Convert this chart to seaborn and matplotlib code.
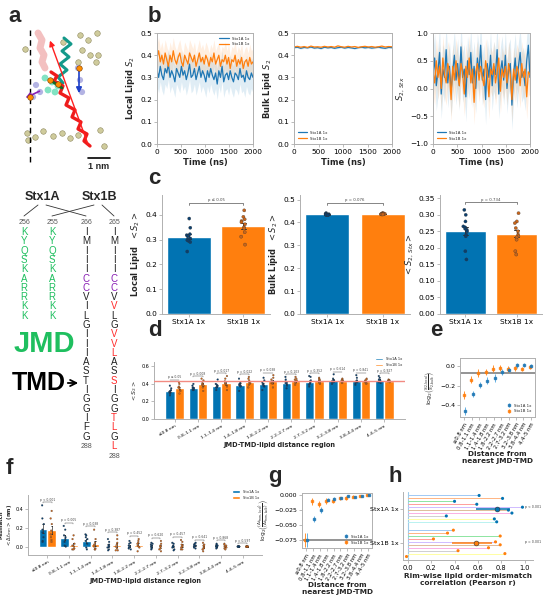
import numpy as np
import pandas as pd
import matplotlib
matplotlib.use("Agg")
import matplotlib.pyplot as plt
import seaborn as sns

# ---------------- dados ----------------
grupos = ["Stx1A 1x", "Stx1B 1x"]
azul = "#0173b2"
laranja = "#ff7f0e"
azul_esc = "#0b3f6e"
laranja_esc = "#c8641a"
verde = "#1fbf5f"
roxo = "#8a1fb5"
vermelho = "#ff2a2a"

# b: series temporais (valores lidos grosseiramente do grafico)
local_a = [0.33, 0.30, 0.35, 0.31, 0.29, 0.34, 0.32, 0.36, 0.30, 0.33, 0.31, 0.28, 0.34, 0.32, 0.30,
           0.35, 0.31, 0.33, 0.29, 0.32, 0.36, 0.30, 0.31, 0.34, 0.29, 0.32, 0.35, 0.30, 0.33, 0.31,
           0.28, 0.33, 0.30, 0.34, 0.31, 0.29, 0.32, 0.27, 0.33, 0.30, 0.35, 0.28, 0.31, 0.32, 0.29,
           0.33, 0.30, 0.28, 0.32, 0.31, 0.29, 0.34, 0.30, 0.31, 0.28, 0.33, 0.30, 0.29, 0.32, 0.30]
local_b = [0.39, 0.42, 0.37, 0.40, 0.36, 0.41, 0.38, 0.35, 0.40, 0.37, 0.42, 0.38, 0.36, 0.39, 0.41,
           0.37, 0.35, 0.40, 0.38, 0.36, 0.41, 0.39, 0.37, 0.40, 0.35, 0.38, 0.41, 0.37, 0.39, 0.36,
           0.40, 0.38, 0.35, 0.39, 0.37, 0.41, 0.36, 0.38, 0.40, 0.35, 0.38, 0.37, 0.40, 0.36, 0.39,
           0.34, 0.38, 0.37, 0.40, 0.35, 0.38, 0.36, 0.39, 0.34, 0.37, 0.38, 0.35, 0.39, 0.36, 0.37]
bulk_a = [0.434, 0.436, 0.431, 0.435, 0.433, 0.437, 0.432, 0.434, 0.430, 0.436, 0.433, 0.435, 0.431,
          0.434, 0.436, 0.432, 0.435, 0.433, 0.430, 0.434, 0.436, 0.433, 0.435, 0.432, 0.434, 0.436,
          0.433, 0.431, 0.435, 0.434]
bulk_b = [0.437, 0.440, 0.436, 0.439, 0.435, 0.441, 0.437, 0.438, 0.436, 0.440, 0.437, 0.439, 0.436,
          0.442, 0.438, 0.436, 0.440, 0.437, 0.439, 0.435, 0.438, 0.440, 0.437, 0.439, 0.436, 0.438,
          0.441, 0.437, 0.439, 0.438]
stx_a = [0.25, 0.55, 0.05, 0.30, 0.65, -0.10, 0.35, 0.20, 0.70, 0.10, 0.40, -0.05, 0.30, 0.60, 0.15,
         0.45, 0.05, 0.75, 0.20, 0.35, -0.15, 0.50, 0.25, 0.65, 0.10, 0.40, 0.00, 0.55, 0.30, 0.78,
         0.15, 0.35, -0.20, 0.45, 0.20, 0.60, 0.05, 0.40, 0.25, 0.70, -0.10, 0.30, 0.50, 0.15, 0.60,
         0.00, 0.35, 0.45, -0.30, 0.25, 0.55, 0.10, 0.40, 0.65, 0.20, 0.30, 0.05, 0.50, 0.78, 0.20]
stx_b = [0.30, 0.10, 0.50, 0.20, 0.40, 0.00, 0.55, 0.25, 0.10, 0.45, 0.30, -0.20, 0.40, 0.15, 0.50,
         0.25, 0.05, 0.45, 0.30, -0.10, 0.40, 0.20, 0.55, 0.10, 0.35, -0.25, 0.30, 0.45, 0.15, 0.40,
         0.20, 0.05, 0.50, 0.30, -0.15, 0.35, 0.25, 0.45, 0.10, 0.30, 0.55, -0.05, 0.35, 0.20, 0.40,
         0.10, 0.45, 0.25, -0.20, 0.35, 0.15, 0.40, 0.30, 0.05, 0.45, 0.20, 0.35, -0.15, 0.30, 0.25]
local_sd = [0.07, 0.06]
bulk_sd = [0.004, 0.004]
stx_sd = [0.45, 0.4]

# c: medias por replica
c_local_a = [0.385, 0.348, 0.322, 0.318, 0.313, 0.305, 0.30, 0.298, 0.295, 0.29, 0.252]
c_local_b = [0.418, 0.392, 0.382, 0.375, 0.37, 0.362, 0.35, 0.345, 0.33, 0.312, 0.28]
c_bulk_a = [0.441, 0.437, 0.436, 0.435, 0.435, 0.434, 0.434, 0.433, 0.433, 0.432]
c_bulk_b = [0.441, 0.440, 0.439, 0.438, 0.438, 0.437, 0.437, 0.436, 0.436, 0.435, 0.435]
c_stx_a = [0.315, 0.30, 0.28, 0.265, 0.262, 0.258, 0.255, 0.25, 0.24, 0.235, 0.19, 0.165]
c_stx_b = [0.305, 0.28, 0.275, 0.26, 0.25, 0.24, 0.235, 0.232, 0.225, 0.19, 0.18]
c_p = ["p ≤ 0.05", "p = 0.076", "p = 0.734"]

# d / e / f / g: regioes de distancia
regioes = ["≤0.8 nm", "0.8–1.1 nm", "1.1–1.4 nm", "1.4–1.8 nm", "1.8–2.2 nm",
           "2.2–2.7 nm", "2.7–3.2 nm", "3.2–3.8 nm", "3.8–4.4 nm", "4.4–5 nm"]
d_a = [[0.38, 0.35, 0.33, 0.32, 0.31, 0.30, 0.29, 0.27],
       [0.40, 0.38, 0.36, 0.355, 0.35, 0.34, 0.33, 0.33],
       [0.45, 0.40, 0.39, 0.38, 0.37, 0.36, 0.36, 0.33],
       [0.46, 0.42, 0.40, 0.39, 0.385, 0.38, 0.37, 0.32],
       [0.47, 0.44, 0.42, 0.40, 0.39, 0.38, 0.37, 0.33],
       [0.48, 0.45, 0.43, 0.42, 0.41, 0.40, 0.38, 0.35],
       [0.49, 0.48, 0.44, 0.42, 0.41, 0.40, 0.39, 0.37],
       [0.51, 0.46, 0.44, 0.435, 0.43, 0.42, 0.42, 0.40],
       [0.50, 0.47, 0.44, 0.43, 0.43, 0.42, 0.41, 0.39],
       [0.49, 0.47, 0.45, 0.44, 0.43, 0.43, 0.42, 0.41]]
d_b = [[0.42, 0.40, 0.37, 0.36, 0.35, 0.33, 0.32, 0.29],
       [0.46, 0.44, 0.41, 0.40, 0.39, 0.38, 0.36, 0.32],
       [0.49, 0.46, 0.43, 0.41, 0.40, 0.39, 0.37, 0.33],
       [0.48, 0.46, 0.44, 0.42, 0.41, 0.40, 0.39, 0.36],
       [0.50, 0.47, 0.45, 0.43, 0.42, 0.41, 0.40, 0.36],
       [0.48, 0.46, 0.45, 0.44, 0.43, 0.42, 0.41, 0.39],
       [0.47, 0.46, 0.45, 0.44, 0.43, 0.42, 0.41, 0.40],
       [0.46, 0.45, 0.44, 0.44, 0.43, 0.43, 0.42, 0.41],
       [0.46, 0.45, 0.44, 0.43, 0.43, 0.42, 0.41, 0.40],
       [0.45, 0.445, 0.44, 0.435, 0.435, 0.43, 0.43, 0.42]]
d_p = ["p ≤ 0.05", "p = 0.008", "p = 0.017", "p = 0.022", "p = 0.038",
       "p = 0.103", "p = 0.352", "p = 0.614", "p = 0.841", "p = 0.927"]
bulk_ref = 0.435

e_a = [-0.46, -0.285, -0.19, -0.15, -0.125, -0.065, -0.04, 0.005, 0.01, 0.0]
e_a_err = [0.04, 0.03, 0.03, 0.035, 0.04, 0.03, 0.025, 0.025, 0.02, 0.02]
e_b = [-0.295, -0.14, -0.07, -0.06, -0.03, -0.025, -0.03, -0.025, -0.03, -0.015]
e_b_err = [0.04, 0.035, 0.04, 0.03, 0.035, 0.03, 0.03, 0.025, 0.02, 0.02]
e_ref = -0.075

f_a = [[0.44, 0.30, 0.24, 0.18, 0.15, 0.10, 0.06, 0.05],
       [0.22, 0.18, 0.12, 0.10, 0.08, 0.05, 0.01, 0.0],
       [0.13, 0.12, 0.10, 0.08, 0.06, 0.03, -0.01, -0.03],
       [0.08, 0.05, 0.02, 0.01, 0.0, -0.01, -0.03, -0.04],
       [0.06, 0.04, 0.03, 0.01, 0.0, -0.01, -0.02, -0.03],
       [0.04, 0.03, 0.02, 0.01, 0.0, -0.01, -0.02, -0.03],
       [0.04, 0.03, 0.01, 0.0, 0.0, -0.01, -0.03, -0.04],
       [0.04, 0.03, 0.02, 0.01, 0.01, 0.0, -0.01, -0.02],
       [0.03, 0.02, 0.01, 0.01, 0.0, 0.0, -0.01, -0.02],
       [0.002, 0.001, 0.0, 0.0, 0.0, 0.0, -0.001, -0.002]]
f_b = [[0.38, 0.30, 0.24, 0.17, 0.13, 0.10, 0.07, 0.05],
       [0.12, 0.08, 0.03, 0.01, 0.0, -0.02, -0.03, -0.03],
       [0.18, 0.08, 0.04, 0.02, 0.0, -0.02, -0.03, -0.03],
       [0.12, 0.08, 0.04, 0.02, 0.0, -0.02, -0.04, -0.04],
       [0.08, 0.06, 0.04, 0.03, 0.01, 0.0, -0.01, -0.05],
       [0.06, 0.03, 0.01, 0.0, 0.0, -0.02, -0.03, -0.05],
       [0.07, 0.05, 0.02, 0.01, 0.0, -0.01, -0.03, -0.03],
       [0.04, 0.02, 0.01, 0.0, -0.01, -0.02, -0.03, -0.05],
       [0.03, 0.02, 0.01, 0.0, 0.0, -0.01, -0.02, -0.03],
       [0.002, 0.001, 0.0, 0.0, 0.0, 0.0, -0.001, -0.002]]
f_p = ["p < 0.001", "p = 0.005", "p = 0.038", "p = 0.387", "p = 0.452",
       "p = 0.620", "p = 0.457", "p = 0.641", "p = 0.868", "p = 0.597"]

g_a = [-0.075, -0.039, -0.024, -0.007, -0.006, -0.004, -0.001, -0.003, -0.001, 0.0]
g_a_err = [0.012, 0.005, 0.005, 0.003, 0.003, 0.002, 0.002, 0.002, 0.001, 0.001]
g_b = [-0.075, -0.010, -0.014, -0.010, -0.009, -0.005, -0.004, -0.002, -0.001, 0.0]
g_b_err = [0.012, 0.006, 0.005, 0.005, 0.004, 0.003, 0.003, 0.002, 0.001, 0.001]
g_ref = -0.075

# h: correlacao por replica
h_a = [0.61, 0.81, 0.40, 0.59, 0.98, 0.86, 0.89, 0.33, 0.74, 0.76]
h_b = [0.39, 0.34, 0.79, 0.22, 0.75, 0.79, 0.69, 0.43, 0.83, -0.01]
h_media = [0.76, 0.58]
h_lo = [0.58, 0.38]
h_hi = [0.87, 0.72]
h_p = ["p < 0.001", "p = 0.001"]

# a: sequencias
seq_num = ["256", "255", "266", "265"]
seq1 = "KYQSKARRKK"
seq2 = "KYQSKARRKK"
seq3 = "IMIIICCVILGIIIASTIGGIFG"
seq4 = "IMIIICCVVLGVVLASSIGGTLGL"
seq4_vermelho = [8, 11, 12, 13, 16, 20, 21, 23]

# a: ilustracao molecular (coordenadas em pixels da figura)
esfera_x = [25, 63, 80, 88, 97, 82, 90, 98, 78, 27, 35, 43, 53, 62, 70, 78, 100, 104, 96, 28]
esfera_y = [49, 42, 35, 40, 33, 50, 55, 55, 62, 133, 137, 131, 136, 133, 138, 135, 130, 146, 62, 140]
helice_x = [90, 84, 87, 78, 81, 72, 75, 66, 69, 60, 63, 54, 57, 51]
helice_y = [146, 141, 134, 129, 122, 117, 110, 105, 98, 93, 86, 81, 76, 72]
teal_x = [64, 71, 62, 69, 60, 67, 58, 63]
teal_y = [38, 44, 51, 57, 64, 70, 77, 83]
rosa_x = [38, 42, 40, 44, 42, 45]
rosa_y = [33, 40, 48, 55, 62, 68]
menta_x = [45, 52, 58, 48, 55]
menta_y = [78, 82, 86, 90, 92]
lavanda_x = [36, 40, 33, 78, 80, 82]
lavanda_y = [85, 92, 97, 68, 80, 92]
bola_x = [30, 50, 58, 79]
bola_y = [97, 80, 84, 68]

# ---------------- figura ----------------
sns.set_style("ticks")
plt.rcParams['font.family'] = ['DejaVu Sans']
plt.rcParams['axes.edgecolor'] = '#b0b0b0'
plt.rcParams['axes.linewidth'] = 0.7
plt.rcParams['xtick.color'] = '#b0b0b0'
plt.rcParams['ytick.color'] = '#b0b0b0'
plt.rcParams['xtick.labelcolor'] = 'black'
plt.rcParams['ytick.labelcolor'] = 'black'
plt.rcParams['xtick.major.size'] = 2
plt.rcParams['ytick.major.size'] = 2
plt.rcParams['xtick.major.width'] = 0.6
plt.rcParams['ytick.major.width'] = 0.6
plt.rcParams['xtick.major.pad'] = 1.5
plt.rcParams['ytick.major.pad'] = 1.5
plt.rcParams['axes.labelpad'] = 2

fig = plt.figure(figsize=(5.5, 5.98), dpi=100)
W, H = 550.0, 598.0


def caixa(x1, y1, x2, y2):
    return [x1 / W, 1 - y2 / H, (x2 - x1) / W, (y2 - y1) / H]


# camada de fundo em pixels para o painel a e as letras
fundo = fig.add_axes([0, 0, 1, 1])
fundo.set_xlim(0, W)
fundo.set_ylim(H, 0)
fundo.axis('off')
fundo.patch.set_alpha(0)

letra = dict(fontsize=16, fontweight='bold', family=['Liberation Sans'], va='top', ha='left')
for txt, x, y in [("a", 8, 6), ("b", 148, 6), ("c", 148, 168), ("d", 148, 320),
                  ("e", 430, 320), ("f", 6, 458), ("g", 268, 466), ("h", 388, 466)]:
    fundo.text(x, y, txt, **letra)

# ilustracao
fundo.plot([30, 30], [30, 165], ls=(0, (4, 3)), color='k', lw=1)
fundo.scatter(esfera_x, esfera_y, s=16, color='#cfcb9c', edgecolor='#8f8a60', lw=0.4)
fundo.plot(rosa_x, rosa_y, color='#f2baba', lw=5, solid_capstyle='round', alpha=0.9)
fundo.scatter(menta_x, menta_y, s=24, color='#82e3c3', edgecolor='none')
fundo.scatter(lavanda_x, lavanda_y, s=20, color='#b3b3e3', edgecolor='none')
fundo.plot(teal_x, teal_y, color='#13998a', lw=2.2)
fundo.plot(helice_x, helice_y, color='#ee1c1c', lw=2.4)
fundo.plot([50, 62], [80, 88], color='#0d6b2a', lw=2)
fundo.scatter(bola_x, bola_y, s=16, color='#ff8c00', edgecolor='#7a3b00', lw=0.4, zorder=5)
fundo.annotate("", xy=(49, 38), xytext=(89, 147),
               arrowprops=dict(arrowstyle='-|>', color='#ff2020', lw=1, mutation_scale=8))
fundo.annotate("", xy=(23, 99), xytext=(42, 90),
               arrowprops=dict(arrowstyle='-|>', color=roxo, lw=1.2, mutation_scale=8))
fundo.annotate("", xy=(79, 96), xytext=(79, 68),
               arrowprops=dict(arrowstyle='-|>', color='#1e40c8', lw=1.2, mutation_scale=8))
fundo.plot([88, 110], [158, 158], color='k', lw=1.2)
fundo.text(99, 162, "1 nm", fontsize=6.5, fontweight='bold', family=['Liberation Sans'],
           ha='center', va='top')

# sequencias
fam = ['Liberation Sans']
col_x = [24, 52, 86, 114]
y0, dy = 232, 9.3
fundo.text(42, 197, "Stx1A", fontsize=9, fontweight='bold', family=fam, ha='center', va='center')
fundo.text(99, 197, "Stx1B", fontsize=9, fontweight='bold', family=fam, ha='center', va='center')
for xa, xb in [(38, col_x[0]), (46, col_x[2]), (94, col_x[1]), (102, col_x[3])]:
    fundo.plot([xa, xb], [205, 216], color='#333', lw=0.6)
for x, n in zip(col_x, seq_num):
    fundo.text(x, 222, n, fontsize=5, color='#555', family=fam, ha='center', va='center')
for k, (x, s) in enumerate(zip(col_x, [seq1, seq2, seq3, seq4])):
    for i, ch in enumerate(s):
        if k < 2:
            cor = verde
        elif ch == 'C':
            cor = roxo
        elif k == 3 and i in seq4_vermelho:
            cor = vermelho
        else:
            cor = '#222'
        fundo.text(x, y0 + i * dy, ch, fontsize=7, color=cor, family=fam, ha='center', va='center')
fundo.text(col_x[2], y0 + 23 * dy + 1, "288", fontsize=5, color='#555', family=fam, ha='center', va='center')
fundo.text(col_x[3], y0 + 24 * dy + 1, "288", fontsize=5, color='#555', family=fam, ha='center', va='center')
fundo.text(14, 344, "JMD", fontsize=21, fontweight='bold', color=verde, family=fam, va='center')
fundo.text(12, 383, "TMD", fontsize=18, fontweight='bold', color='k', family=fam, va='center')
fundo.annotate("", xy=(col_x[2] - 5, 383), xytext=(65, 383),
               arrowprops=dict(arrowstyle='->', color='k', lw=1.3, mutation_scale=11))

# ---------------- b ----------------
tempo60 = np.linspace(0, 2000, len(local_a))
tempo30 = np.linspace(0, 2000, len(bulk_a))
series_b = [
    (caixa(157, 33, 253, 144), tempo60, local_a, local_b, local_sd, (0, 0.5),
     np.arange(0, 0.51, 0.1), "Local Lipid $S_2$", 'upper right'),
    (caixa(294, 33, 392, 144), tempo30, bulk_a, bulk_b, bulk_sd, (0, 0.5),
     np.arange(0, 0.51, 0.1), "Bulk Lipid $S_2$", 'lower left'),
    (caixa(433, 33, 530, 144), tempo60, stx_a, stx_b, stx_sd, (-1, 1),
     [-1, -0.5, 0, 0.5, 1], "$S_{2,\\,Stx}$", 'lower left'),
]
for pos, t, va, vb, sd, lim, ticks, rot, loc in series_b:
    ax = fig.add_axes(pos)
    df = pd.DataFrame({'Tempo': np.concatenate([t, t]), 'S2': va + vb,
                       'grupo': [grupos[0]] * len(t) + [grupos[1]] * len(t)})
    ax.fill_between(t, np.array(va) - sd[0], np.array(va) + sd[0], color=azul, alpha=0.12, lw=0)
    ax.fill_between(t, np.array(vb) - sd[1], np.array(vb) + sd[1], color=laranja, alpha=0.12, lw=0)
    sns.lineplot(data=df, x='Tempo', y='S2', hue='grupo', palette=["#1f77b4", laranja],
                 lw=0.9, ax=ax, estimator=None)
    ax.set_xlim(0, 2000)
    ax.set_ylim(*lim)
    ax.set_yticks(ticks)
    ax.set_xticks([0, 500, 1000, 1500, 2000])
    ax.tick_params(labelsize=5.3)
    ax.set_xlabel("Time (ns)", fontsize=6, fontweight='bold')
    ax.set_ylabel(rot, fontsize=6, fontweight='bold' if 'Lipid' in rot else 'normal')
    ax.legend(loc=loc, fontsize=2.8, frameon=False, handlelength=2.5)

# ---------------- c ----------------
dados_c = [
    (caixa(162, 195, 270, 314), c_local_a, c_local_b, (0, 0.48), np.arange(0, 0.41, 0.1),
     "Local Lipid  $< S_2 >$", 0.447, c_p[0], "%.1f"),
    (caixa(300, 195, 410, 314), c_bulk_a, c_bulk_b, (0, 0.52), np.arange(0, 0.51, 0.1),
     "Bulk Lipid  $< S_2 >$", 0.485, c_p[1], "%.1f"),
    (caixa(440, 195, 542, 314), c_stx_a, c_stx_b, (0, 0.36), np.arange(0, 0.351, 0.05),
     "$< S_{2,\\,Stx} >$", 0.338, c_p[2], "%.2f"),
]
for pos, va, vb, lim, ticks, rot, yb, ptxt, fmt in dados_c:
    ax = fig.add_axes(pos)
    df = pd.DataFrame({'grupo': [grupos[0]] * len(va) + [grupos[1]] * len(vb), 'valor': va + vb})
    sns.barplot(data=df, x='grupo', y='valor', hue='grupo', palette=[azul, laranja],
                errorbar='se', capsize=0.1, err_kws={'linewidth': 0.7, 'color': '#333'},
                width=0.8, saturation=1, legend=False, ax=ax)
    sns.stripplot(data=df, x='grupo', y='valor', hue='grupo', palette=[azul_esc, laranja_esc],
                  size=2.3, jitter=0.04, edgecolor='#333', linewidth=0.2, legend=False, ax=ax)
    sns.despine(ax=ax)
    ax.set_ylim(*lim)
    ax.set_yticks(ticks)
    ax.yaxis.set_major_formatter(matplotlib.ticker.FormatStrFormatter(fmt))
    ax.tick_params(labelsize=5.3)
    ax.set_xlabel("")
    ax.set_ylabel(rot, fontsize=6, fontweight='bold' if 'Lipid' in rot else 'normal')
    h = (lim[1]) * 0.015
    ax.plot([0, 0, 1, 1], [yb - h, yb, yb, yb - h], color='#555', lw=0.5)
    ax.text(0.5, yb + h * 0.4, ptxt, fontsize=2.8, ha='center', va='bottom', color='#444')


# ---------------- d e f ----------------
def barras_regiao(ax, pa, pb, pvals, fs_tick, alt):
    linhas = []
    for i, reg in enumerate(regioes):
        for v in pa[i]:
            linhas.append((reg, grupos[0], v))
        for v in pb[i]:
            linhas.append((reg, grupos[1], v))
    df = pd.DataFrame(linhas, columns=['regiao', 'grupo', 'valor'])
    sns.barplot(data=df, x='regiao', y='valor', hue='grupo', order=regioes, hue_order=grupos,
                palette=[azul, laranja], errorbar='se', capsize=0.12, saturation=1,
                err_kws={'linewidth': 0.5, 'color': '#333'}, width=0.8, ax=ax)
    sns.stripplot(data=df, x='regiao', y='valor', hue='grupo', order=regioes, hue_order=grupos,
                  palette=[azul_esc, laranja_esc], dodge=True, size=1.3, jitter=0.1,
                  edgecolor='#333', linewidth=0.15, legend=False, ax=ax)
    for i in range(len(regioes)):
        topo = max(max(pa[i]), max(pb[i])) + alt
        ax.plot([i - 0.2, i - 0.2, i + 0.2, i + 0.2], [topo - alt * 0.3, topo, topo, topo - alt * 0.3],
                color='#555', lw=0.35)
        ax.text(i, topo + alt * 0.15, pvals[i], fontsize=2.2, ha='center', va='bottom', color='#444')
    sns.despine(ax=ax)
    ax.set_xticks(range(len(regioes)))
    ax.set_xticklabels(regioes, rotation=30, ha='right', rotation_mode='anchor', fontsize=fs_tick)
    ax.tick_params(axis='y', labelsize=fs_tick + 0.3)
    ax.set_xlabel("JMD-TMD-lipid distance region", fontsize=4.8, fontweight='bold')
    ax.legend(loc='upper right', bbox_to_anchor=(1.0, 1.14), fontsize=2.6, frameon=False,
              handlelength=2.2)


ax_d = fig.add_axes(caixa(154, 362, 405, 419))
barras_regiao(ax_d, d_a, d_b, d_p, 3.2, 0.03)
ax_d.axhline(bulk_ref, color='#f28b82', lw=1, zorder=5)
ax_d.set_ylim(0, 0.65)
ax_d.set_yticks([0, 0.2, 0.4, 0.6])
ax_d.set_ylabel("$< S_2 >$", fontsize=4.5)

ax_f = fig.add_axes(caixa(28, 495, 262, 555))
barras_regiao(ax_f, f_a, f_b, f_p, 3.2, 0.035)
ax_f.set_ylim(-0.09, 0.55)
ax_f.set_yticks([0, 0.2, 0.4])
ax_f.set_ylabel("Mismatch\n$< \\Delta t_{mm} >$ (nm)", fontsize=3.8, fontweight='bold', labelpad=1)


def pontos_regiao(ax, va, ea, vb, eb, ref):
    xs = np.arange(len(regioes))
    ax.errorbar(xs - 0.12, vb, yerr=eb, fmt='s', ms=1.8, color=laranja, ecolor=laranja,
                elinewidth=0.7, alpha=0.85, capsize=0, label=grupos[1])
    ax.errorbar(xs + 0.12, va, yerr=ea, fmt='s', ms=1.8, color="#1f77b4", ecolor="#4aa3df",
                elinewidth=0.7, alpha=0.85, capsize=0, label=grupos[0])
    ax.axhline(ref, color='#777', lw=1.1, zorder=0)
    ax.set_xlim(-0.6, len(regioes) - 0.4)
    ax.set_xticks(xs)
    ax.set_xticklabels(regioes, rotation=60, ha='right', rotation_mode='anchor', fontsize=3.8)
    ax.tick_params(axis='y', labelsize=4.5)
    ax.set_xlabel("Distance from\nnearest JMD-TMD", fontsize=5.3, fontweight='bold', labelpad=0.5)
    hd, lb = ax.get_legend_handles_labels()
    ax.legend(hd[::-1], lb[::-1], loc='lower right', fontsize=2.8, frameon=False,
              handlelength=1, markerscale=0.8)


ax_e = fig.add_axes(caixa(460, 358, 535, 417))
pontos_regiao(ax_e, e_a, e_a_err, e_b, e_b_err, e_ref)
ax_e.set_ylim(-0.52, 0.08)
ax_e.set_yticks([0, -0.2, -0.4])
ax_e.set_ylabel("$\\log_2\\!\\left(\\frac{S_{2,\\mathrm{local}}}{S_{2,\\mathrm{bulk}}}\\right)$",
                fontsize=4.5)

ax_g = fig.add_axes(caixa(302, 493, 372, 548))
pontos_regiao(ax_g, g_a, g_a_err, g_b, g_b_err, g_ref)
ax_g.set_ylim(-0.088, 0.004)
ax_g.set_yticks([0, -0.025, -0.05, -0.075])
ax_g.set_ylabel("$\\log_2\\!\\left(\\frac{\\langle \\Delta t_{mm,local}\\rangle}"
                "{\\langle \\Delta t_{mm,bulk}\\rangle}\\right)$", fontsize=4.2)

# ---------------- h ----------------
ax_h = fig.add_axes(caixa(403, 492, 533, 560))
pastel = sns.color_palette("pastel", 10)
desloc = np.linspace(-0.38, 0.38, 10)
ax_h.axvline(0, color='#9fcbe8', lw=0.8, zorder=0)
for g, (vals, cor, cor_esc) in enumerate([(h_a, azul, azul_esc), (h_b, laranja, laranja_esc)]):
    ys = g + desloc
    for j, (r, y) in enumerate(zip(vals, ys)):
        ax_h.plot([0, r], [y, y], color=pastel[j], lw=0.7, zorder=1)
    sns.scatterplot(x=vals, y=ys, color=cor, s=5, edgecolor='none', ax=ax_h, zorder=3)
    ax_h.errorbar(h_media[g], g, xerr=[[h_media[g] - h_lo[g]], [h_hi[g] - h_media[g]]],
                  fmt='o', ms=3.5, color=cor, mec='#333', mew=0.4, elinewidth=1.1, ecolor=cor,
                  capsize=0, zorder=4)
    ax_h.text(1.0, g - 0.05, h_p[g], fontsize=2.3, color='#444', ha='left', va='center')
ax_h.set_ylim(1.48, -0.48)
ax_h.set_yticks([0, 1])
ax_h.set_yticklabels(grupos, fontsize=4.6)
ax_h.set_xlim(-0.04, 1.07)
ax_h.set_xticks([0, 0.2, 0.4, 0.6, 0.8, 1.0])
ax_h.tick_params(axis='x', labelsize=4.8)
sns.despine(ax=ax_h)
ax_h.set_xlabel("Rim-wise lipid order-mismatch\ncorrelation (Pearson r)", fontsize=5.3,
                fontweight='bold', labelpad=1.5)

fig.savefig("out.png", dpi=100)
